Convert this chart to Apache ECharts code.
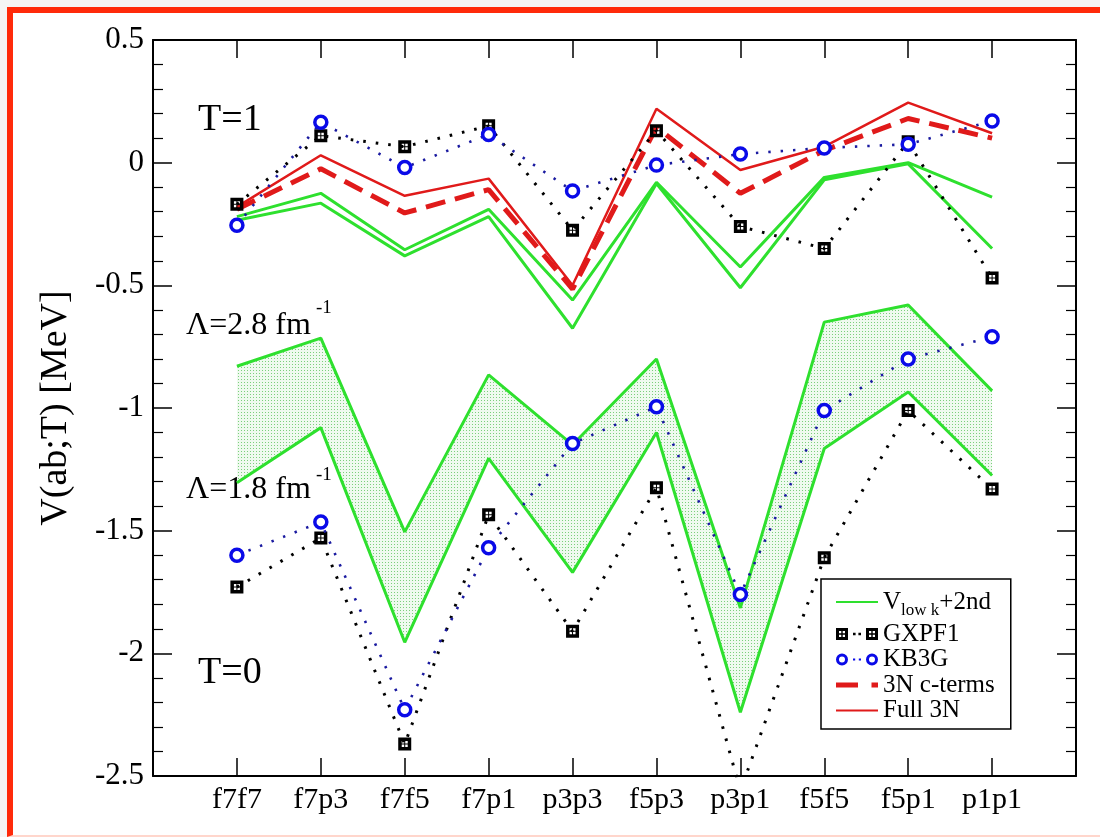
<!DOCTYPE html>
<html>
<head>
<meta charset="utf-8">
<script src="https://cdn.jsdelivr.net/npm/echarts@6/dist/echarts.min.js"></script>
<style>
html,body{margin:0;padding:0;width:1100px;height:837px;overflow:hidden;background:#f5f5f5;}
#frame{position:absolute;left:7px;top:7px;width:1200px;height:830px;box-sizing:border-box;border-left:6px solid #ff2a0a;border-top:6px solid #ff2a0a;border-bottom:2px solid #ffd6cc;background:#fff;}
#chart{position:absolute;left:0;top:0;width:1100px;height:837px;}
</style>
</head>
<body>
<div id="frame"></div>
<div id="chart"></div>
<script>
// ---- data ----
const categories = ['f7f7','f7p3','f7f5','f7p1','p3p3','f5p3','p3p1','f5f5','f5p1','p1p1'];
const yTicks = [0.5, 0, -0.5, -1, -1.5, -2, -2.5];

// T = 1
const gxpf1T1   = [-0.17, 0.11, 0.065, 0.15, -0.275, 0.13, -0.26, -0.35, 0.085, -0.47];
const kb3gT1    = [-0.255, 0.165, -0.02, 0.115, -0.115, -0.01, 0.035, 0.06, 0.075, 0.17];
const full3nT1  = [-0.18, 0.03, -0.135, -0.065, -0.50, 0.22, -0.03, 0.065, 0.245, 0.12];
const cTermsT1  = [-0.19, -0.025, -0.205, -0.11, -0.515, 0.145, -0.125, 0.05, 0.18, 0.10];
const vlowkT1a  = [-0.22, -0.125, -0.355, -0.19, -0.56, -0.08, -0.425, -0.06, 0.0, -0.14];
const vlowkT1b  = [-0.235, -0.165, -0.38, -0.22, -0.675, -0.085, -0.51, -0.07, -0.005, -0.35];

// T = 0
const vlowk28T0 = [-0.83, -0.715, -1.505, -0.865, -1.15, -0.80, -1.815, -0.65, -0.58, -0.93];
const vlowk18T0 = [-1.305, -1.08, -1.955, -1.205, -1.67, -1.10, -2.24, -1.165, -0.935, -1.275];
const gxpf1T0   = [-1.73, -1.53, -2.37, -1.435, -1.91, -1.325, -2.56, -1.61, -1.01, -1.33];
const kb3gT0    = [-1.60, -1.465, -2.23, -1.57, -1.145, -0.995, -1.76, -1.01, -0.80, -0.71];

// ---- helpers ----
// category slots: an empty slot on each side so the first/last pair sit one step in from the frame
const axisCats = [' '].concat(categories, ['  ']);
const pts = arr => arr.map((v, i) => [categories[i], v]);
const bandDiff = vlowk28T0.map((v, i) => [categories[i], +(v - vlowk18T0[i]).toFixed(4)]);

const GREEN = '#2ee02e', RED = '#e01a1a', BLUE = '#0a0ae8', FONT = 'Liberation Serif';
const NOSYM = 'rgba(0,0,0,0)';

// stipple pattern for the band
const pc = document.createElement('canvas');
pc.width = 3; pc.height = 3;
const pctx = pc.getContext('2d');
pctx.fillStyle = '#effaef'; pctx.fillRect(0, 0, 3, 3);
pctx.fillStyle = '#7ccf7c'; pctx.fillRect(1, 1, 1, 1);

const squareSym = 'path://M0,0L13,0L13,13L0,13Z M3.5,3.5L3.5,6L6,6L6,3.5Z M7,3.5L7,6L9.5,6L9.5,3.5Z M3.5,7L3.5,9.5L6,9.5L6,7Z M7,7L7,9.5L9.5,9.5L9.5,7Z';

// legend icon paths (42 x 14 box)
function rectCW(x0, y0, x1, y1) { return `M${x0},${y0}L${x1},${y0}L${x1},${y1}L${x0},${y1}Z`; }
function rectCCW(x0, y0, x1, y1) { return `M${x0},${y0}L${x0},${y1}L${x1},${y1}L${x1},${y0}Z`; }
function sqIcon(x) {
  return rectCW(x, 1, x + 12, 13) + rectCCW(x + 3, 4, x + 5.3, 6.3) + rectCCW(x + 6.7, 4, x + 9, 6.3)
       + rectCCW(x + 3, 7.7, x + 5.3, 10) + rectCCW(x + 6.7, 7.7, x + 9, 10);
}
function ringIcon(cx) {
  return `M${cx - 6},7A6,6 0 1,0 ${cx + 6},7A6,6 0 1,0 ${cx - 6},7Z`
       + `M${cx - 3},7A3,3 0 1,1 ${cx + 3},7A3,3 0 1,1 ${cx - 3},7Z`;
}
const gxIcon = 'path://' + sqIcon(0) + rectCW(17, 5.7, 19.6, 8.3) + rectCW(22.4, 5.7, 25, 8.3) + sqIcon(30);
const kbIcon = 'path://' + ringIcon(6) + rectCW(17, 5.9, 19.2, 8.1) + rectCW(22.8, 5.9, 25, 8.1) + ringIcon(36);
const ctIcon = 'path://' + rectCW(0, 4.5, 22, 9.5) + rectCW(35.5, 4.5, 42, 9.5);

const common = { animation: false, emphasis: { disabled: true }, silent: true };

function greenLine(name, data, extra) {
  return Object.assign({
    type: 'line', name, data, symbol: 'circle', showSymbol: false,
    lineStyle: { color: GREEN, width: 3 }, itemStyle: { color: NOSYM }, z: 3
  }, common, extra || {});
}
function gxLine(data) {
  return Object.assign({
    type: 'line', name: 'GXPF1', data, symbol: squareSym, symbolSize: 13,
    lineStyle: { color: '#000', width: 3, type: [2.6, 10] },
    itemStyle: { color: '#000' }, z: 5
  }, common);
}
function kbLine(data) {
  return Object.assign({
    type: 'line', name: 'KB3G', data, symbol: 'circle', symbolSize: 12,
    lineStyle: { color: '#1a1aa0', width: 2.6, type: [2.4, 10] },
    itemStyle: { color: '#fff', borderColor: BLUE, borderWidth: 3.5 }, z: 6
  }, common);
}

const chart = echarts.init(document.getElementById('chart'), null, { renderer: 'canvas' });

const axisLbl = { color: '#000', fontFamily: FONT, fontSize: 31 };
const frameLine = { show: true, onZero: false, lineStyle: { color: '#000', width: 2 } };

chart.setOption({
  animation: false,
  textStyle: { fontFamily: FONT },
  grid: { left: 153, right: 24, top: 40, bottom: 61, containLabel: false },
  xAxis: [
    {
      type: 'category', data: axisCats, boundaryGap: false, position: 'bottom',
      axisLine: frameLine,
      axisTick: { show: true, inside: true, length: 18, interval: 0, lineStyle: { color: '#000', width: 1.5 } },
      axisLabel: { show: true, interval: 0, margin: 9, color: '#000', fontFamily: FONT, fontSize: 30 },
      splitLine: { show: false }
    },
    {
      type: 'category', data: axisCats, boundaryGap: false, position: 'top',
      axisLine: frameLine,
      axisTick: { show: true, inside: true, length: 18, interval: 0, lineStyle: { color: '#000', width: 1.5 } },
      axisLabel: { show: false }, splitLine: { show: false }
    }
  ],
  yAxis: [
    {
      type: 'value', min: -2.5, max: 0.5, interval: 0.5, position: 'left',
      name: 'V(ab;T) [MeV]', nameLocation: 'middle', nameGap: 78,
      nameTextStyle: { color: '#000', fontFamily: FONT, fontSize: 38 },
      axisLine: frameLine,
      axisTick: { show: true, inside: true, length: 19, lineStyle: { color: '#000', width: 1.5 } },
      minorTick: { show: true, splitNumber: 5, length: 10, lineStyle: { color: '#000', width: 1.2 } },
      axisLabel: Object.assign({ margin: 9, formatter: v => yTicks.includes(v) ? String(v) : '' }, axisLbl),
      splitLine: { show: false }, minorSplitLine: { show: false }
    },
    {
      type: 'value', min: -2.5, max: 0.5, interval: 0.5, position: 'right',
      axisLine: frameLine,
      axisTick: { show: true, inside: true, length: 19, lineStyle: { color: '#000', width: 1.5 } },
      minorTick: { show: true, splitNumber: 5, length: 10, lineStyle: { color: '#000', width: 1.2 } },
      axisLabel: { show: false }, splitLine: { show: false }
    }
  ],
  legend: {
    data: [
      'Vlowk',
      { name: 'GXPF1', icon: gxIcon, itemStyle: { color: '#000', borderWidth: 0 } },
      { name: 'KB3G', icon: kbIcon, itemStyle: { color: BLUE, borderWidth: 0 } },
      { name: '3N c-terms', icon: ctIcon, itemStyle: { color: RED, borderWidth: 0 } },
      'Full 3N'
    ],
    orient: 'vertical', left: 821, top: 579,
    padding: [4, 16, 6, 14], itemGap: 0.5, itemWidth: 42, itemHeight: 14, itemTextGap: 16,
    borderColor: '#000', borderWidth: 1.5, backgroundColor: '#fff', selectedMode: false,
    textStyle: {
      color: '#000', fontFamily: FONT, fontSize: 25, lineHeight: 24,
      rich: {
        n: { fontFamily: FONT, fontSize: 25, lineHeight: 24, color: '#000' },
        v: { fontFamily: FONT, fontSize: 25, lineHeight: 38, color: '#000' },
        sub: { fontFamily: FONT, fontSize: 17, lineHeight: 20, padding: [18, 0, 0, 0], color: '#000' }
      }
    },
    formatter: n => n === 'Vlowk' ? '{v|V}{sub|low k}{v|+2nd}' : '{n|' + n + '}'
  },
  graphic: [
    { type: 'text', x: 198, y: 120, silent: true, style: { text: 'T=1', fontFamily: FONT, fontSize: 38, fill: '#000', verticalAlign: 'middle' } },
    { type: 'text', x: 198, y: 673, silent: true, style: { text: 'T=0', fontFamily: FONT, fontSize: 38, fill: '#000', verticalAlign: 'middle' } },
    { type: 'text', x: 186, y: 325.5, silent: true, style: { text: 'Λ=2.8 fm', fontFamily: FONT, fontSize: 32, fill: '#000', verticalAlign: 'middle' } },
    { type: 'text', x: 316, y: 308, silent: true, style: { text: '-1', fontFamily: FONT, fontSize: 19, fill: '#000', verticalAlign: 'middle' } },
    { type: 'text', x: 186, y: 490, silent: true, style: { text: 'Λ=1.8 fm', fontFamily: FONT, fontSize: 32, fill: '#000', verticalAlign: 'middle' } },
    { type: 'text', x: 316, y: 475, silent: true, style: { text: '-1', fontFamily: FONT, fontSize: 19, fill: '#000', verticalAlign: 'middle' } }
  ],
  series: [
    greenLine('Vlowk', pts(vlowk18T0), { stack: 'band', stackStrategy: 'all' }),
    greenLine('Vlowk', bandDiff, { stack: 'band', stackStrategy: 'all', areaStyle: { color: { image: pc, repeat: 'repeat' }, opacity: 1 }, z: 2 }),
    greenLine('Vlowk', pts(vlowkT1a)),
    greenLine('Vlowk', pts(vlowkT1b)),
    gxLine(pts(gxpf1T1)),
    gxLine(pts(gxpf1T0)),
    kbLine(pts(kb3gT1)),
    kbLine(pts(kb3gT0)),
    Object.assign({
      type: 'line', name: '3N c-terms', data: pts(cTermsT1), symbol: 'circle', showSymbol: false,
      lineStyle: { color: RED, width: 5, type: [20, 10] }, itemStyle: { color: NOSYM }, z: 4
    }, common),
    Object.assign({
      type: 'line', name: 'Full 3N', data: pts(full3nT1), symbol: 'circle', showSymbol: false,
      lineStyle: { color: RED, width: 2.5 }, itemStyle: { color: NOSYM }, z: 4
    }, common)
  ]
});
</script>
</body>
</html>
